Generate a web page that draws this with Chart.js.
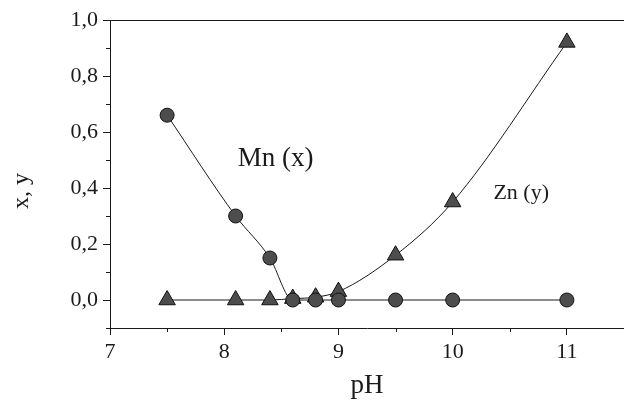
<!DOCTYPE html>
<html>
<head>
<meta charset="utf-8">
<script src="https://cdn.jsdelivr.net/npm/chart.js@4/dist/chart.umd.min.js"></script>
<style>
	html, body { margin: 0; padding: 0; background: #fff; }
	#wrap { width: 624px; height: 402px; }
</style>
</head>
<body>
<div id="wrap"><canvas id="phChart" width="624" height="402"></canvas></div>
<script>
// pH values where both metals were measured
const phValues = [7.5, 8.1, 8.4, 8.6, 8.8, 9.0, 9.5, 10, 11];
// molar fractions
const mnFraction = [0.66, 0.30, 0.15, 0.0, 0.0, 0.0, 0.0, 0.0, 0.0];
const znFraction = [0.0, 0.0, 0.0, 0.005, 0.01, 0.03, 0.16, 0.35, 0.92];

const xMajorTicks = [7, 8, 9, 10, 11];
const xMinorTicks = [7.5, 8.5, 9.5, 10.5, 11.5];
const yMajorTicks = [0, 0.2, 0.4, 0.6, 0.8, 1.0];
const yMinorTicks = [-0.1, 0.1, 0.3, 0.5, 0.7, 0.9];

const seriesLabels = ['Mn (x)', 'Zn (y)'];
const labelPositions = [[8.45, 0.505], [10.6, 0.38]];
const yTitle = 'x, y';

const serif = "'Liberation Serif', 'DejaVu Serif', serif";
const ink = '#1a1a1a';

function toPoints(ys) {
	return phValues.map((x, i) => ({ x: x, y: ys[i] }));
}

function commaNum(v) {
	return v.toFixed(1).replace('.', ',');
}

//draws minor ticks, the top frame line, the y title and the series captions
const extras = {
	id: 'extras',
	afterDraw(chart) {
		const ctx = chart.ctx;
		const xs = chart.scales.x;
		const ys = chart.scales.y;
		const area = chart.chartArea;
		ctx.save();
		ctx.strokeStyle = ink;
		ctx.lineWidth = 1;
		ctx.beginPath();
		xMinorTicks.forEach((v) => {
			const px = Math.round(xs.getPixelForValue(v)) + 0.5;
			ctx.moveTo(px, area.bottom);
			ctx.lineTo(px, area.bottom + 4);
		});
		yMinorTicks.forEach((v) => {
			const py = Math.round(ys.getPixelForValue(v)) + 0.5;
			ctx.moveTo(area.left, py);
			ctx.lineTo(area.left - 4, py);
		});
		// top frame
		ctx.moveTo(area.left, area.top + 0.5);
		ctx.lineTo(area.right, area.top + 0.5);
		ctx.stroke();

		ctx.fillStyle = ink;
		ctx.textAlign = 'center';
		ctx.textBaseline = 'middle';
		seriesLabels.forEach((txt, i) => {
			ctx.font = (i === 0 ? 27 : 22) + 'px ' + serif;
			const p = labelPositions[i];
			ctx.fillText(txt, xs.getPixelForValue(p[0]), ys.getPixelForValue(p[1]));
		});

		// rotated y title, sits a bit below the middle of the axis
		ctx.font = '24px ' + serif;
		ctx.translate(22, (area.top + area.bottom) / 2 + 17);
		ctx.rotate(-Math.PI / 2);
		ctx.fillText(yTitle, 0, 0);
		ctx.restore();
	}
};

new Chart(document.getElementById('phChart').getContext('2d'), {
	type: 'scatter',
	data: {
		datasets: [
			{
				label: seriesLabels[0],
				data: toPoints(mnFraction),
				showLine: true,
				cubicInterpolationMode: 'monotone',
				borderColor: ink,
				borderWidth: 1,
				pointStyle: 'circle',
				pointRadius: 7,
				pointBackgroundColor: '#4d4d4d',
				pointBorderColor: '#111',
				pointBorderWidth: 1,
				order: 1,
			},
			{
				label: seriesLabels[1],
				data: toPoints(znFraction),
				showLine: true,
				cubicInterpolationMode: 'monotone',
				borderColor: ink,
				borderWidth: 1,
				pointStyle: 'triangle',
				pointRadius: 9.5,
				pointBackgroundColor: '#4d4d4d',
				pointBorderColor: '#111',
				pointBorderWidth: 1,
				order: 2,
			},
		],
	},
	options: {
		responsive: false,
		animation: false,
		layout: {
			autoPadding: false,
			padding: { top: 20, right: 0, left: 0, bottom: 0 }
		},
		plugins: {
			legend: { display: false },
			tooltip: { enabled: false },
		},
		scales: {
			x: {
				type: 'linear',
				min: 7,
				max: 11.5,
				afterBuildTicks: (scale) => {
					scale.ticks = xMajorTicks.map((v) => ({ value: v }));
				},
				afterFit: (scale) => {
					scale.height = 74;
					scale.paddingLeft = 0;
					scale.paddingRight = 0;
				},
				border: { display: true, color: ink, width: 1 },
				grid: {
					drawOnChartArea: false,
					drawTicks: true,
					tickLength: 7,
					tickColor: ink,
				},
				ticks: {
					color: ink,
					padding: 4,
					font: { family: serif, size: 22 },
					callback: (v) => String(v),
				},
				title: {
					display: true,
					text: 'pH',
					color: ink,
					font: { family: serif, size: 27 },
					padding: { top: 0, bottom: 0 },
				},
			},
			y: {
				type: 'linear',
				min: -0.1,
				max: 1.0,
				afterBuildTicks: (scale) => {
					scale.ticks = yMajorTicks.map((v) => ({ value: v }));
				},
				afterFit: (scale) => {
					scale.width = 110;
					scale.paddingTop = 0;
					scale.paddingBottom = 0;
				},
				border: { display: true, color: ink, width: 1 },
				grid: {
					drawOnChartArea: false,
					drawTicks: true,
					tickLength: 7,
					tickColor: ink,
				},
				ticks: {
					color: ink,
					padding: 5,
					font: { family: serif, size: 22 },
					callback: (v) => commaNum(v),
				},
			},
		},
	},
	plugins: [extras],
});
</script>
</body>
</html>
